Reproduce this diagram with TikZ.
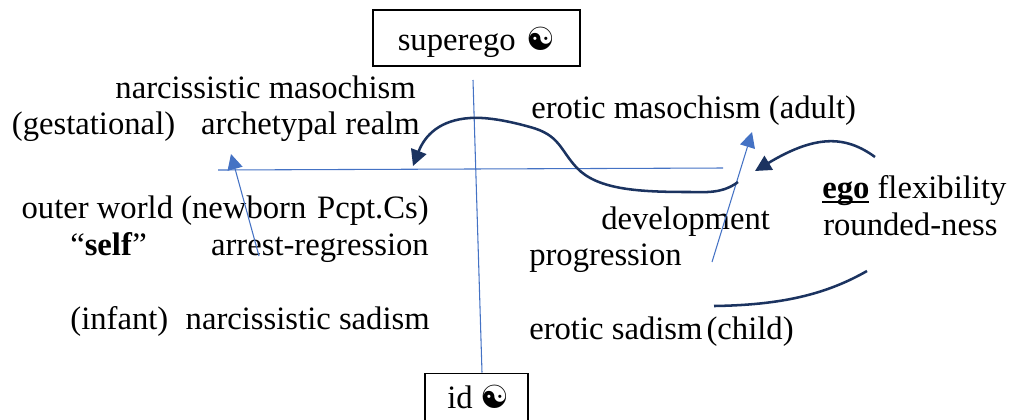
\documentclass[tikz,border=0pt]{standalone}
\usepackage{fontspec}
\setmainfont{Liberation Serif}
\newfontfamily\symfont{DejaVu Sans}
\usetikzlibrary{arrows.meta}
\definecolor{axisblue}{HTML}{4472C4}
\definecolor{curvenavy}{HTML}{1B3360}
\newcommand{\yinyang}{{\symfont\fontsize{24}{28}\selectfont ☯}}
\newcommand{\heavyunder}[1]{\setbox0\hbox{#1}\rlap{\rule[-3.6pt]{\wd0}{1.7pt}}\box0\relax}

\begin{document}
\begin{tikzpicture}[
        x=0.75pt, y=-0.75pt,
        every node/.style={font=\fontsize{24.5}{28}\selectfont, inner sep=0pt},
        boxed/.style={draw=black, line width=1.4pt},
        axis/.style={axisblue, line width=0.8pt},
        axisarrow/.style={axis, -{Triangle[length=11.5pt, width=11.5pt]}},
        drive/.style={curvenavy, line width=1.9pt},
        drivearrow/.style={drive, -{Triangle[length=12pt, width=12pt]}}
    ]
        \useasboundingbox (0,0) rectangle (1009,419);

        % Boxes
        \node [boxed, minimum width=155pt, text height=30.7pt, text depth=11.3pt, anchor=north] (superego) at (476.5,9) {superego\hspace{2pt} \yinyang\hspace{2pt}};
        \node [boxed, minimum width=77pt, text height=26.6pt, text depth=16pt, anchor=north] (id) at (476.5,372.5) {\hspace*{3pt}id \yinyang};

        % Left side labels
        \node [anchor=base east] (narcmaso) at (416,98) {narcissistic masochism};
        \node [anchor=base east] (archetypal) at (420,134) {(gestational)\hspace{19.5pt}archetypal realm};
        \node [anchor=base east] (outer) at (429,218) {outer world (newborn\hspace{8pt}Pcpt.Cs)};
        \node [anchor=base west] (self) at (70,255) {“\textbf{self}”};
        \node [anchor=base east] (arrest) at (429,255) {arrest-regression};
        \node [anchor=base east] (narcsad) at (430,329) {(infant)\hspace{13pt}narcissistic sadism};

        % Right side labels
        \node [anchor=base west] (eroticmaso) at (531,118) {erotic masochism (adult)};
        \node [anchor=base west] (develop) at (601,229) {development};
        \node [anchor=base west] (progress) at (529,265) {progression};
        \node [anchor=base west] (eroticsad) at (529,339) {erotic sadism\hspace{3pt}(child)};
        \node [anchor=base west] (ego) at (822,198) {\heavyunder{\textbf{ego}} flexibility};
        \node [anchor=base west] (rounded) at (823,235) {rounded-ness};

        % Free ends of the connectors
        \coordinate (vtop) at (473,80);
        \coordinate (vbot) at (482,372.5);
        \coordinate (hleft) at (218,170);
        \coordinate (hright) at (723,168);
        \coordinate (regstart) at (259,256);
        \coordinate (regtip) at (231,154);
        \coordinate (progstart) at (712,262);
        \coordinate (progtip) at (752,132);
        \coordinate (swingstart) at (738,182);
        \coordinate (swingtip) at (413,166);
        \coordinate (egostart) at (875,157);
        \coordinate (egotip) at (755,171);
        \coordinate (sadstart) at (714,306);
        \coordinate (sadend) at (867,271);

        % Axes
        \draw [axis] (vtop) -- (vbot);
        \draw [axis] (hleft) -- (hright);
        \draw [axisarrow] (regstart) -- (regtip);
        \draw [axisarrow] (progstart) -- (progtip);

        % Dark curves
        \draw [drivearrow] (swingstart) .. controls (722,194) and (705,192) .. (690,192)
            .. controls (640,192) and (598,190) .. (577,168)
            .. controls (560,150) and (560,135) .. (530,127)
            .. controls (505,120) and (485,117) .. (470,118)
            .. controls (440,120) and (425,135) .. (swingtip);
        \draw [drivearrow] (egostart) .. controls (845,135) and (815,135) .. (egotip);
        \draw [drive] (sadstart) .. controls (780,305) and (825,295) .. (sadend);
    \end{tikzpicture}
\end{document}
